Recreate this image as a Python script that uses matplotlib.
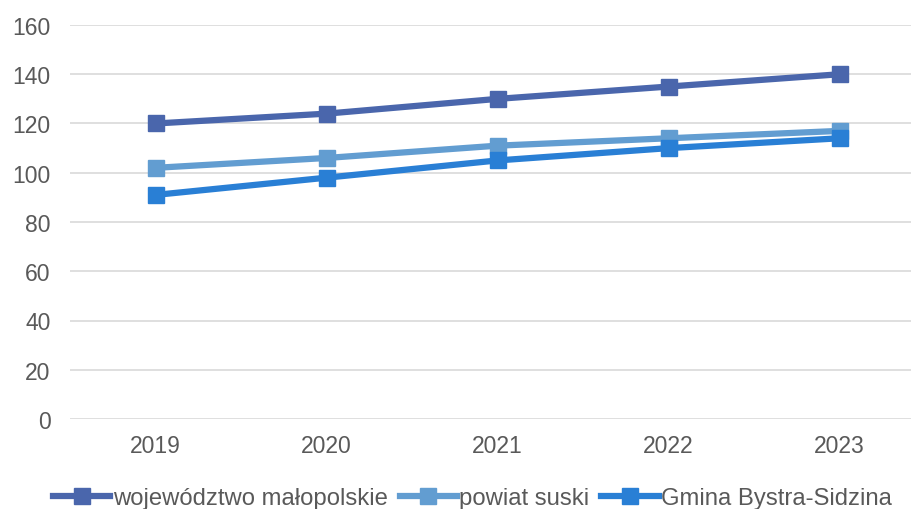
import matplotlib.pyplot as plt

plt.rcParams['font.family'] = ['Liberation Sans', 'DejaVu Sans']

years = ["2019", "2020", "2021", "2022", "2023"]
malopolskie = [120, 124, 130, 135, 140]
suski = [102, 106, 111, 114, 117]
bystra = [91, 98, 105, 110, 114]

fig = plt.figure(figsize=(9.11, 5.10), dpi=100)
# plot area runs a little past the right edge, as in the source image
ax = fig.add_axes([70 / 911, 1 - 420 / 510, 855 / 911, 394 / 510])

x = range(len(years))
ax.plot(x, malopolskie, color="#4A66AC", lw=4.5, marker="s", ms=11, label="województwo małopolskie", zorder=3)
ax.plot(x, suski, color="#629DD1", lw=4.5, marker="s", ms=11, label="powiat suski", zorder=3)
ax.plot(x, bystra, color="#297FD5", lw=4.5, marker="s", ms=11, label="Gmina Bystra-Sidzina", zorder=3)

ax.set_xlim(-0.5, len(years) - 0.5)
ax.set_ylim(0, 160)
ax.set_yticks(range(0, 161, 20))
ax.set_xticks(list(x))
ax.set_xticklabels(years)
ax.grid(axis="y", color="#D9D9D9", lw=1.2)
ax.set_axisbelow(True)
for s in ax.spines.values():
    s.set_visible(False)
ax.tick_params(length=0, labelsize=16.5, colors="#595959", pad=11)
ax.tick_params(axis="y", pad=14)

fig.legend(loc="center", bbox_to_anchor=(0.5 + 17 / 911, 1 - 499 / 510), ncol=3, frameon=False,
           fontsize=17.2, handlelength=2.4, handletextpad=0.1, columnspacing=0.5,
           labelcolor="#595959")

fig.savefig("out.png", dpi=100)
